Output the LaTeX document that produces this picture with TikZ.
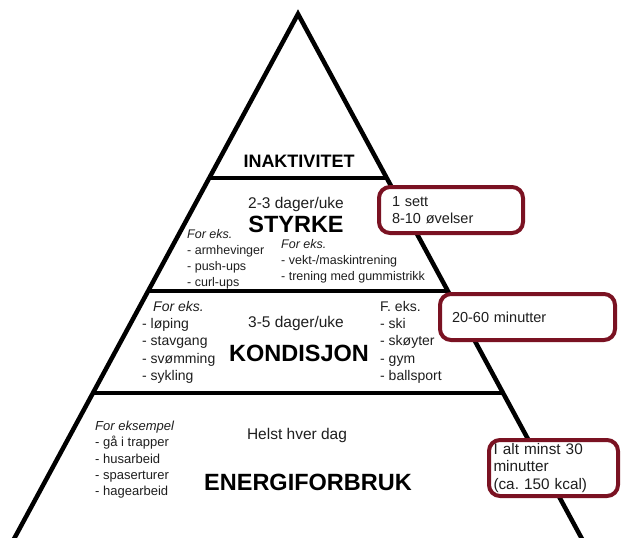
\documentclass[tikz,border=0pt]{standalone}
\usepackage{fontspec}
\setmainfont{Liberation Sans}
\frenchspacing
\definecolor{boxred}{RGB}{122,18,34}
\definecolor{inkgray}{RGB}{30,30,30}
\usetikzlibrary{positioning,calc}

\begin{document}
\begin{tikzpicture}[
  x=1pt, y=-1pt,
  wall/.style={line width=4.5pt, black},
  tier/.style={font=\fontsize{23.5}{28}\selectfont\bfseries, text=black, inner sep=0pt},
  freq/.style={font=\fontsize{15.5}{18}\selectfont, text=inkgray, anchor=base, inner sep=0pt},
  list/.style={font=\fontsize{12.5}{16}\selectfont, text=inkgray, align=left, anchor=north west, inner sep=0pt},
  note/.style={draw=boxred, line width=4pt, rounded corners=11pt, fill=white, align=left, text=inkgray,
    font=\fontsize{14.5}{17}\selectfont, inner ysep=0pt}
]
\useasboundingbox (0,0) rectangle (622,538);

% pyramid outline
\coordinate (apex) at (298,14);
\coordinate (bl) at (14.5,538);
\coordinate (br) at (581.5,538);
\draw[wall, line join=miter] ($(apex)!1.02!(bl)$) -- (apex) -- ($(apex)!1.02!(br)$);
\draw[wall] ($(apex)!0.313!(bl)$) -- ($(apex)!0.313!(br)$);
\draw[wall] ($(apex)!0.5286!(bl)$) -- ($(apex)!0.5286!(br)$);
\draw[wall] ($(apex)!0.7233!(bl)$) -- ($(apex)!0.7233!(br)$);

% top level
\node[tier, font=\fontsize{18}{22}\selectfont\bfseries] (inaktiv) at (299,161) {INAKTIVITET};

% strength level
\node[freq] (styrkefreq) at (296,208.5) {2-3 dager/uke};
\node[tier] (styrke) at (296,224) {STYRKE};
\node[list] (styrkeA) at (187,229) {\textit{For eks.}\\- armhevinger\\- push-ups\\- curl-ups};
\node[list] (styrkeB) at (281,239) {\textit{For eks.}\\- vekt-/maskintrening\\- trening med gummistrikk};

% endurance level
\node[freq] (kondfreq) at (296,327.5) {3-5 dager/uke};
\node[tier] (kondisjon) at (299,353) {KONDISJON};
\node[list, font=\fontsize{14}{17.3}\selectfont] (kondA) at (142,301) {\hspace*{11pt}\textit{For eks.}\\- løping\\- stavgang\\- svømming\\- sykling};
\node[list, font=\fontsize{14}{17.3}\selectfont] (kondB) at (380,301) {F. eks.\\- ski\\- skøyter\\- gym\\- ballsport};

% base level
\node[freq] (energifreq) at (297,439.5) {Helst hver dag};
\node[tier] (energi) at (308,482) {ENERGIFORBRUK};
\node[list, font=\fontsize{13}{16.3}\selectfont] (energiA) at (95,421) {\textit{For eksempel}\\- gå i trapper\\- husarbeid\\- spaserturer\\- hagearbeid};

% side notes
\node[note, inner xsep=13pt, text width=118pt, minimum height=46pt] (noteA) at (451,210) {1 sett\\8-10 øvelser};
\node[note, inner xsep=12pt, text width=151pt, minimum height=46pt] (noteB) at (527.5,317) {20-60 minutter};
\node[note, inner xsep=4.5pt, text width=120pt, minimum height=56pt, font=\fontsize{15.3}{17.5}\selectfont] (noteC) at (553.5,468) {I alt minst 30\\minutter\\(ca. 150 kcal)};
\end{tikzpicture}
\end{document}
